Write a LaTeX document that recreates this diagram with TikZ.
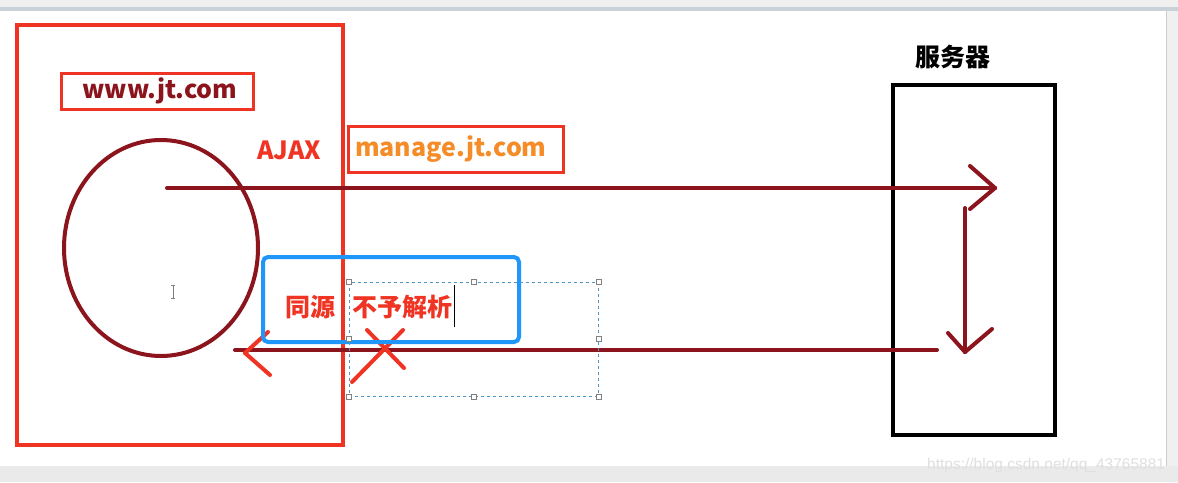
\documentclass[tikz,border=0pt]{standalone}
\usepackage{fontspec}
\newfontfamily\cjk{Noto Sans CJK SC}
\newfontfamily\wmfont{Liberation Sans}
\usetikzlibrary{shapes.geometric}
\definecolor{bred}{RGB}{240,52,36}
\definecolor{dred}{RGB}{140,20,28}
\definecolor{orng}{RGB}{245,140,40}
\definecolor{bblue}{RGB}{30,150,250}
\definecolor{selblue}{RGB}{80,150,200}
\definecolor{chrome}{RGB}{240,240,240}
\definecolor{chromeb}{RGB}{200,208,216}
\tikzset{
  redbox/.style={draw=bred, line width=3.5pt, inner sep=0pt},
  label/.style={font=\cjk\bfseries\fontsize{25}{29}\selectfont, inner sep=0pt},
  flow/.style={draw=dred, line width=4pt, line cap=round},
  cross/.style={draw=bred, line width=4pt, line cap=round},
  handle/.style={draw=gray, fill=white, line width=0.6pt, minimum size=5pt, inner sep=0pt},
}
\begin{document}
\begin{tikzpicture}[x=1pt,y=-1pt]
\useasboundingbox (0,0) rectangle (1178,482);
% window chrome
\fill[white] (0,0) rectangle (1178,482);
\fill[chrome] (0,0) rectangle (1178,7);
\fill[chromeb] (0,7) rectangle (1178,11);
\fill[chrome] (1166,11) rectangle (1178,482);
\draw[gray!40, line width=0.6pt] (1166,11) -- (1166,466);
\fill[chrome!95!gray] (0,466) rectangle (1178,482);
\node[font=\wmfont\fontsize{15.5}{17}\selectfont, text=gray!25, anchor=west, inner sep=0pt] (wm) at (927,465) {https://blog.csdn.net/qq\_43765881};

% client side
\node[redbox, minimum width=326pt, minimum height=420pt] (client) at (180,235) {};
\node[redbox, line width=3pt, minimum width=192pt, minimum height=36pt] (www) at (157,91) {};
\node[label, text=dred] (wwwt) at (160,91) {www.jt.com};
\node[draw=dred, line width=4pt, ellipse, minimum width=194pt, minimum height=216pt, inner sep=0pt] (page) at (161,248) {};
% I-beam cursor
\draw[gray, line width=0.8pt] (173,285) -- (173,298) (171,285) -- (175,285) (171,298) -- (175,298);
\node[label, text=bred] (ajax) at (289,150) {AJAX};
\node[redbox, line width=3pt, minimum width=215pt, minimum height=46pt] (manage) at (455.5,149) {};
\node[label, text=orng, anchor=west] (managet) at (355,149) {manage.jt.com};

% server
\node[draw=black, line width=4.5pt, minimum width=162pt, minimum height=350pt, inner sep=0pt] (server) at (974,260) {};
\node[label, text=black] (servert) at (953,57) {服务器};

% request arrow
\coordinate (reqS) at (167,188);
\coordinate (reqE) at (995,188);
\draw[flow] (reqS) -- (reqE);
\draw[flow] (reqE) -- ++(-25,-22);
\draw[flow] (reqE) -- ++(-25,21);

% processing arrow
\coordinate (procS) at (965,208);
\coordinate (procE) at (965,352);
\draw[flow] (procS) -- (procE);
\draw[flow] (procE) -- ++(-17,-19);
\draw[flow] (procE) -- ++(27,-23);

% response arrow
\coordinate (resS) at (937,350);
\coordinate (resE) at (235,350);
\coordinate (resTip) at (245,353);
\draw[flow] (resS) -- (resE);
\draw[cross] (resTip) -- ++(23,-21);
\draw[cross] (resTip) -- ++(25,22);

% red cross
\coordinate (x1a) at (352,382); \coordinate (x1b) at (403,330);
\coordinate (x2a) at (367,330); \coordinate (x2b) at (404,368);
\draw[cross] (x1a) -- (x1b);
\draw[cross] (x2a) -- (x2b);

% same origin box
\node[draw=bblue, line width=4pt, rounded corners=5pt, minimum width=256pt, minimum height=85pt, inner sep=0pt] (origin) at (391,299.5) {};
\node[label, text=bred] (tongyuan) at (310,307) {同源};
% selection frame
\node[draw=selblue, dashed, line width=0.8pt, minimum width=249pt, minimum height=114pt, inner sep=0pt] (sel) at (473.5,339) {};
\foreach \a in {north west,north,north east,west,east,south west,south,south east}
  \node[handle] at (sel.\a) {};
\node[label, text=bred, anchor=west] (buyu) at (352,307) {不予解析};
\draw[black, line width=0.8pt] (454,285) -- (454,327);
\end{tikzpicture}
\end{document}
